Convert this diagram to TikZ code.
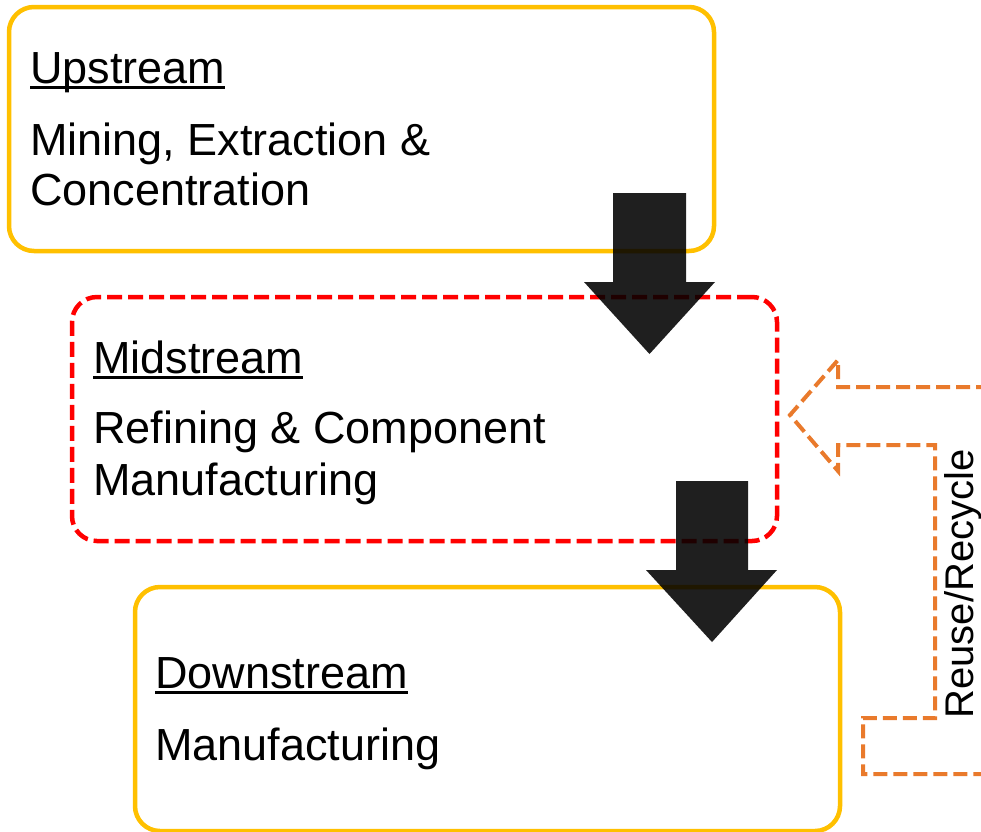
\documentclass[tikz,border=0pt]{standalone}
\usepackage{fontspec}
\setmainfont{Liberation Sans}
\definecolor{boxgold}{HTML}{FFC000}
\definecolor{boxred}{HTML}{FF0000}
\definecolor{looporange}{HTML}{E97A2C}
\begin{document}
\begin{tikzpicture}[x=1pt,y=-1pt,
  stagebox/.style={rounded corners=25pt, minimum width=705pt, minimum height=244pt,
    inner sep=0pt, line width=4.5pt},
  solidbox/.style={stagebox, draw=boxgold},
  dashbox/.style={stagebox, draw=boxred, dash pattern=on 15pt off 6pt},
  stagetext/.style={anchor=base west, inner sep=0pt, font=\fontsize{45}{54}\selectfont},
  ulined/.style={line width=2.5pt},
  blockarrow/.style={fill=black, fill opacity=0.88},
  loopline/.style={draw=looporange, line width=4pt, dash pattern=on 14pt off 6pt,
    line join=miter}
]
\useasboundingbox (0,0) rectangle (981,831);
\begin{scope}
\clip (0,0) rectangle (981,831);

% stage boxes
\node[solidbox] (up)   at (361.5,129) {};
\node[dashbox]  (mid)  at (424.5,419) {};
\node[solidbox] (down) at (487.5,709) {};

% upstream text
\node[stagetext] (uph) at (30,83) {Upstream};
\draw[ulined] ([yshift=-4.5pt]uph.base west) -- ([yshift=-4.5pt]uph.base east);
\node[stagetext] (up1) at (30,155) {Mining, Extraction \&};
\node[stagetext] (up2) at (30,205) {Concentration};

% midstream text
\node[stagetext] (midh) at (93,373) {Midstream};
\draw[ulined] ([yshift=-4.5pt]midh.base west) -- ([yshift=-4.5pt]midh.base east);
\node[stagetext] (mid1) at (93,443) {Refining \& Component};
\node[stagetext] (mid2) at (93,495) {Manufacturing};

% downstream text
\node[stagetext] (downh) at (155,688) {Downstream};
\draw[ulined] ([yshift=-4.5pt]downh.base west) -- ([yshift=-4.5pt]downh.base east);
\node[stagetext] (down1) at (155,760) {Manufacturing};

% flow arrows between stages
\fill[blockarrow] (613,193) -- (686,193) -- (686,282) -- (715,282) -- (649.5,354)
  -- (584,282) -- (613,282) -- cycle;
\fill[blockarrow] (676,481) -- (748,481) -- (748,570) -- (777,570) -- (712,642)
  -- (646,570) -- (676,570) -- cycle;

% reuse / recycle return arrow
\draw[loopline] (990,387) -- (838,387) -- (838,360) -- (790,415) -- (838,471)
  -- (838,445) -- (935,445) -- (935,718) -- (863,718) -- (863,774) -- (990,774);
\end{scope}
\node[rotate=90, anchor=base, inner sep=0pt, font=\fontsize{40}{48}\selectfont]
  (loop) at (973,584) {Reuse/Recycle};
\end{tikzpicture}
\end{document}
